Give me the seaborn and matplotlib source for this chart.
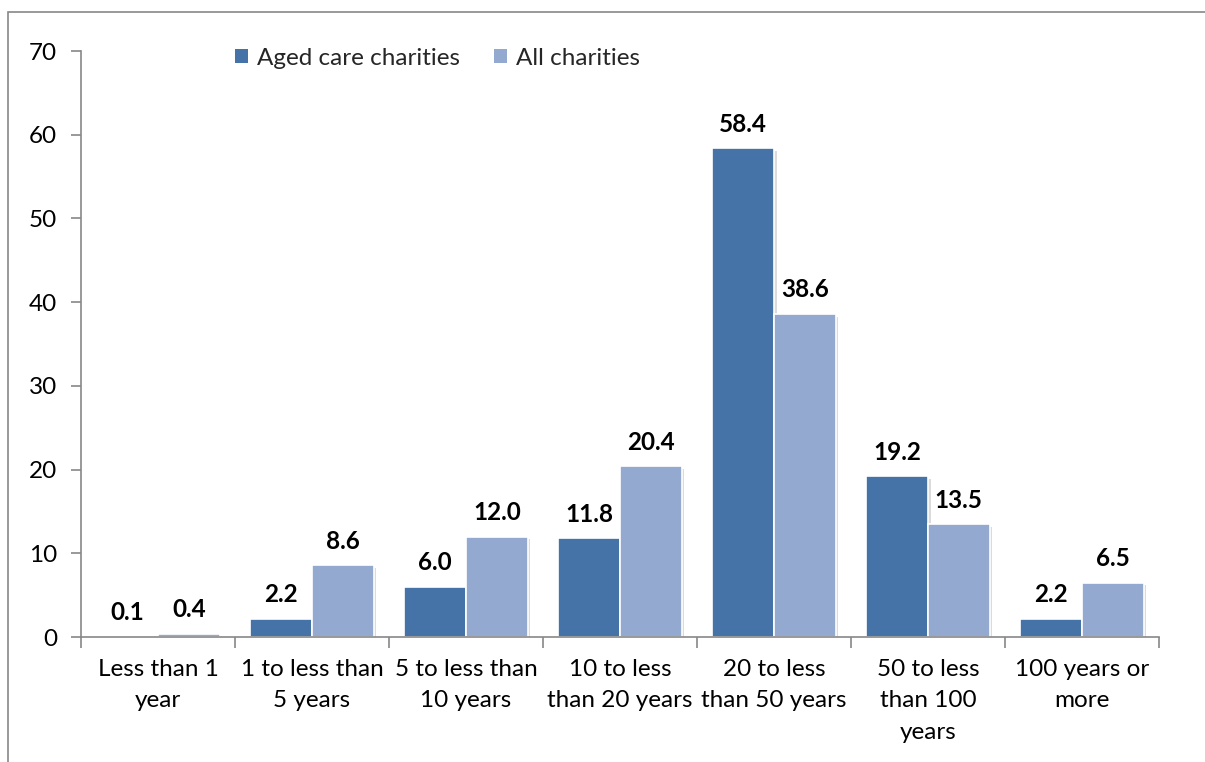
import matplotlib
matplotlib.use("Agg")
import matplotlib.pyplot as plt
import matplotlib.patheffects as pe
from matplotlib.patches import Rectangle
from matplotlib.ticker import FixedLocator
import seaborn as sns
import pandas as pd
import numpy as np

categories = ["Less than 1\nyear", "1 to less than\n5 years", "5 to less than\n10 years",
              "10 to less\nthan 20 years", "20 to less\nthan 50 years",
              "50 to less\nthan 100\nyears", "100 years or\nmore"]
aged_care = [0.1, 2.2, 6.0, 11.8, 58.4, 19.2, 2.2]
all_charities = [0.4, 8.6, 12.0, 20.4, 38.6, 13.5, 6.5]
series_names = ["Aged care charities", "All charities"]
colors = ["#4572A7", "#94A9D0"]

sns.set_theme(style="white")
plt.rcParams['font.family'] = ['Lato', 'DejaVu Sans']

df = pd.DataFrame({
    "cat": categories * 2,
    "val": aged_care + all_charities,
    "series": [series_names[0]] * 7 + [series_names[1]] * 7,
})

fig = plt.figure(figsize=(12.05, 7.62), dpi=100)
ax = fig.add_axes([0.0672, 0.164, 0.8946, 0.769])

sns.barplot(data=df, x="cat", y="val", hue="series", palette=colors,
            width=0.8, edgecolor="white", linewidth=1.2, ax=ax, errorbar=None,
            saturation=1)

for p in ax.patches:
    p.set_path_effects([pe.SimplePatchShadow(offset=(2, -2), shadow_rgbFace="#999999", alpha=0.35),
                        pe.Normal()])

for cont in ax.containers:
    ax.bar_label(cont, fmt="%.1f", padding=9, fontsize=17.5, fontweight="bold", color="black")

ax.set_ylim(0, 70)
ax.set_xlim(-0.5, 6.5)
ax.set_yticks(np.arange(0, 71, 10))
ax.set_xlabel("")
ax.set_ylabel("")

ax.tick_params(axis="y", labelsize=17.5, colors="#000000", length=7, direction="out", left=True, pad=10)
ax.tick_params(axis="x", which="major", labelsize=17.5, length=0, pad=16)
ax.xaxis.set_minor_locator(FixedLocator(np.arange(-0.5, 7.0, 1.0)))
ax.tick_params(axis="x", which="minor", length=8, color="#888888", width=1.2, bottom=True)
ax.tick_params(axis="y", color="#888888", width=1.2)
for lbl in ax.get_yticklabels():
    lbl.set_color("black")
for lbl in ax.get_xticklabels():
    lbl.set_color("black")
    lbl.set_linespacing(1.6)

for s in ["top", "right"]:
    ax.spines[s].set_visible(False)
for s in ["left", "bottom"]:
    ax.spines[s].set_color("#888888")
    ax.spines[s].set_linewidth(1.2)

leg = ax.legend(loc="center left", bbox_to_anchor=(0.143, 1 - 7 / 586), ncol=2, frameon=False,
                fontsize=17.5, handlelength=0.55, handleheight=0.55, handletextpad=0.35,
                columnspacing=1.4, borderpad=0, borderaxespad=0)
for h in leg.legend_handles:
    h.set_path_effects([])
    h.set_edgecolor("none")

fig.patches.append(Rectangle((8 / 1205, -0.1), 1.2, 1 - 12 / 762 + 0.1,
                             transform=fig.transFigure, fill=False,
                             edgecolor="#888888", linewidth=1.2))

fig.savefig("out.png", dpi=100)
